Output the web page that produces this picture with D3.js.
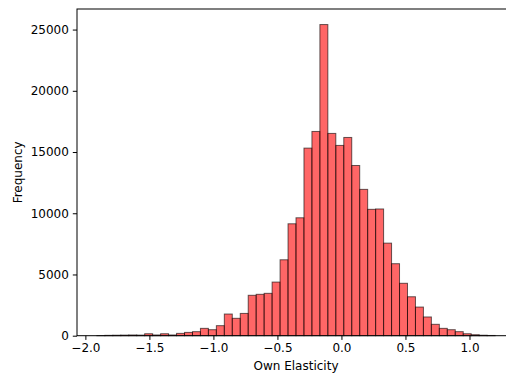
<!DOCTYPE html>
<html>
<head>
<meta charset="utf-8">
<script src="https://cdn.jsdelivr.net/npm/d3@7"></script>
<style>
  html, body { margin: 0; padding: 0; background: #fff; }
  svg { display: block; }
  text { font-family: "DejaVu Sans", sans-serif; fill: #000; }
</style>
</head>
<body>
<svg id="chart" width="506" height="376"></svg>
<script>
// Histogram of own-price elasticities: 50 equal-width bins
const binLow = -1.91;
const binHigh = 1.20;
const counts = [
  10, 30, 40, 50, 60, 50, 160, 60, 160, 60,
  190, 270, 330, 600, 490, 820, 1770, 1420, 1820, 3300,
  3380, 3460, 4380, 6200, 9140, 9630, 15320, 16680, 25410, 16520,
  15540, 16190, 13900, 11950, 10320, 10350, 7560, 5880, 4280, 3180,
  2340, 1530, 930, 600, 490, 330, 160, 80, 40, 20
];
const xTicks = [-2.0, -1.5, -1.0, -0.5, 0.0, 0.5, 1.0];
const yTicks = [0, 5000, 10000, 15000, 20000, 25000];
const xTitle = "Own Elasticity";
const yTitle = "Frequency";

const nBins = counts.length;
const edges = d3.range(nBins + 1).map(i => binLow + (binHigh - binLow) * i / nBins);
const bins = counts.map((c, i) => ({ x0: edges[i], x1: edges[i + 1], count: c }));

const svg = d3.select("#chart");
const plot = { left: 77, right: 515, top: 9, bottom: 335.7 };

// 5% padding on x around the data range, y starts at zero
const span = binHigh - binLow;
const x = d3.scaleLinear()
  .domain([binLow - 0.05 * span, binHigh + 0.05 * span])
  .range([plot.left, plot.right]);
const yMax = d3.max(counts) * 1.05;
const y = d3.scaleLinear()
  .domain([0, yMax])
  .range([plot.bottom, plot.top]);

// bars
svg.append("g")
  .selectAll("rect")
  .data(bins)
  .join("rect")
  .attr("x", d => x(d.x0))
  .attr("y", d => y(d.count))
  .attr("width", d => x(d.x1) - x(d.x0))
  .attr("height", d => y(0) - y(d.count))
  .attr("fill", "red")
  .attr("fill-opacity", 0.6)
  .attr("stroke", "black")
  .attr("stroke-opacity", 0.6)
  .attr("stroke-width", 1);

const fmtX = v => d3.format(".1f")(v).replace("-", "\u2212");

// x axis
const xAxis = svg.append("g")
  .attr("transform", `translate(0,${plot.bottom})`)
  .call(d3.axisBottom(x).tickValues(xTicks).tickFormat(fmtX).tickSize(4.2).tickPadding(4));
xAxis.select(".domain").remove();
xAxis.selectAll("text").attr("font-size", 12).attr("font-family", "DejaVu Sans");
xAxis.selectAll("line").attr("stroke", "#000").attr("stroke-width", 1);

// y axis
const yAxis = svg.append("g")
  .attr("transform", `translate(${plot.left},0)`)
  .call(d3.axisLeft(y).tickValues(yTicks).tickFormat(d3.format("d")).tickSize(4.2).tickPadding(4));
yAxis.select(".domain").remove();
yAxis.selectAll("text").attr("font-size", 12).attr("font-family", "DejaVu Sans");
yAxis.selectAll("line").attr("stroke", "#000").attr("stroke-width", 1);

// frame
svg.append("rect")
  .attr("x", plot.left)
  .attr("y", plot.top)
  .attr("width", plot.right - plot.left)
  .attr("height", plot.bottom - plot.top)
  .attr("fill", "none")
  .attr("stroke", "#000")
  .attr("stroke-width", 1);

// axis titles
svg.append("text")
  .attr("x", (plot.left + plot.right) / 2)
  .attr("y", 370)
  .attr("text-anchor", "middle")
  .attr("font-size", 12)
  .text(xTitle);

svg.append("text")
  .attr("transform", `translate(22,${(plot.top + plot.bottom) / 2}) rotate(-90)`)
  .attr("text-anchor", "middle")
  .attr("font-size", 12)
  .text(yTitle);
</script>
</body>
</html>
